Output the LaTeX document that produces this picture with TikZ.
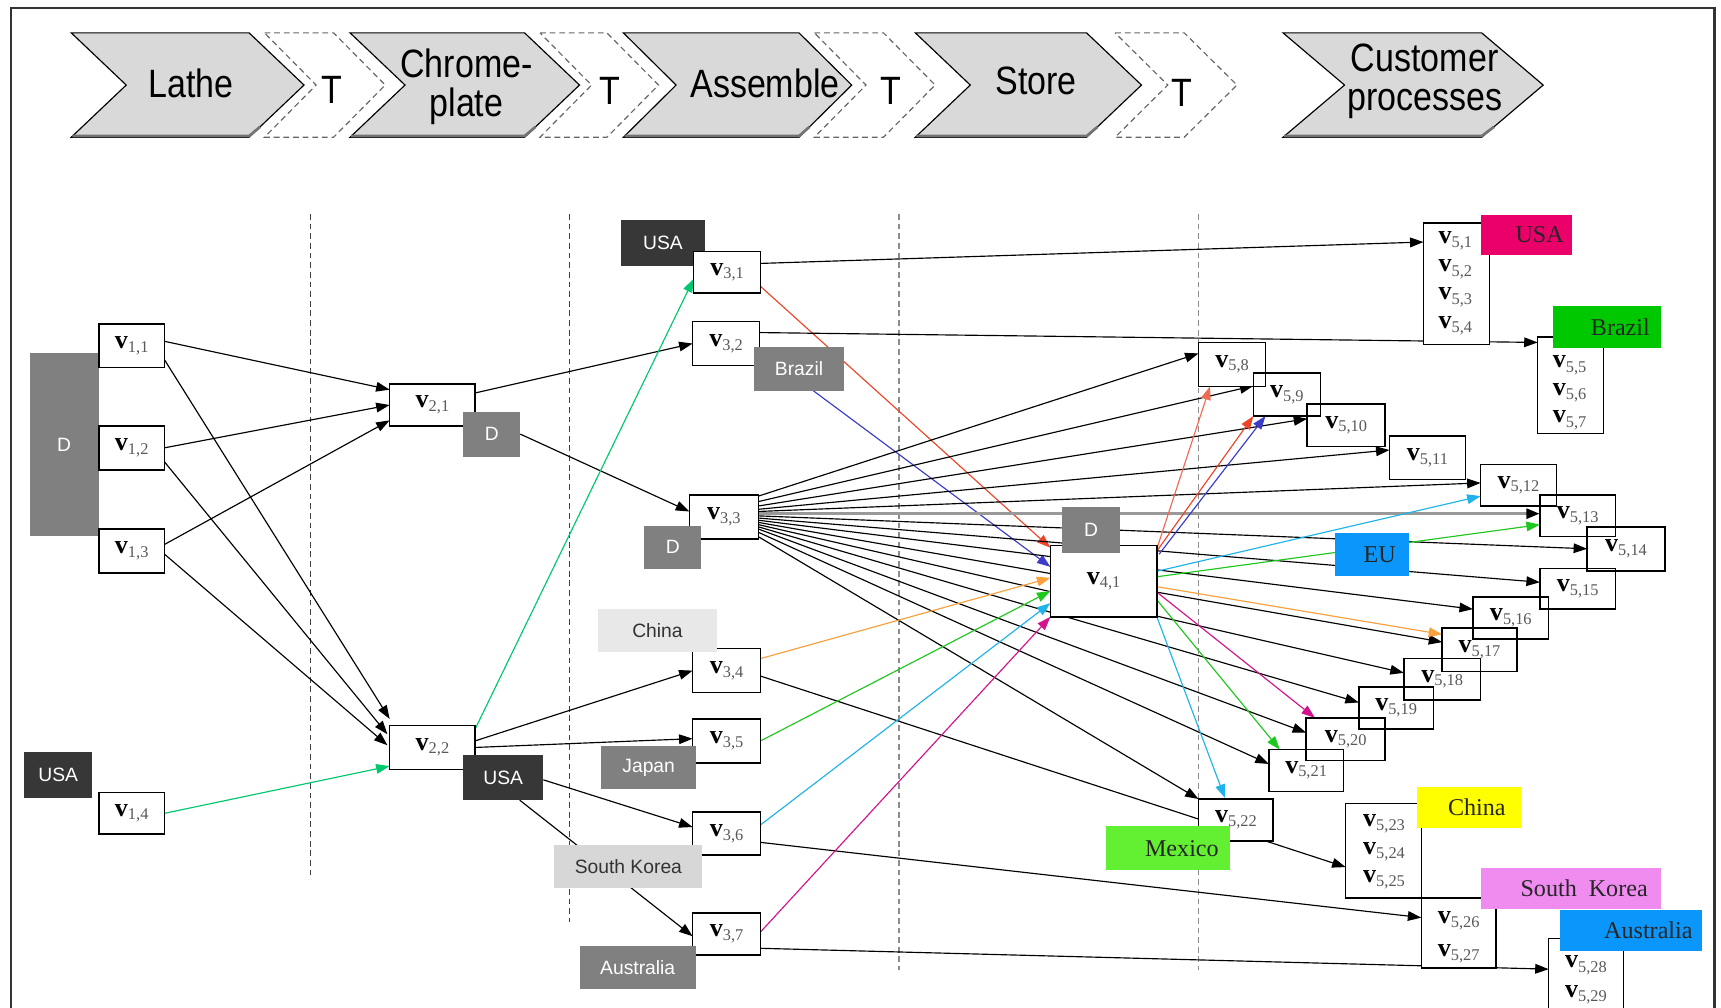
\documentclass[tikz,border=0pt]{standalone}
\usepackage{fontspec}
\setmainfont{Liberation Serif}
\newfontfamily\hdrfont[FakeStretch=0.86]{Liberation Sans}
\newfontfamily\labfont{Liberation Sans}
\usetikzlibrary{arrows.meta,calc}
\pgfdeclarelayer{back}
\pgfdeclarelayer{wires}
\pgfsetlayers{back,wires,main}

% palette
\definecolor{usadark}{RGB}{55,55,55}
\definecolor{dgray}{RGB}{128,128,128}
\definecolor{lgray}{RGB}{232,232,232}
\definecolor{skgray}{RGB}{215,215,215}
\definecolor{hdrgray}{RGB}{217,217,217}
\definecolor{cpink}{RGB}{235,0,105}
\definecolor{cgreen}{RGB}{0,200,0}
\definecolor{cblue}{RGB}{10,150,250}
\definecolor{cmex}{RGB}{100,240,50}
\definecolor{cyel}{RGB}{255,255,0}
\definecolor{cviolet}{RGB}{240,140,240}
\definecolor{agreen}{RGB}{0,200,110}
\definecolor{ared}{RGB}{235,70,40}
\definecolor{ablue}{RGB}{60,60,200}
\definecolor{aorange}{RGB}{250,160,60}
\definecolor{agreen2}{RGB}{30,200,30}
\definecolor{acyan}{RGB}{30,180,235}
\definecolor{amag}{RGB}{210,20,140}

% v_{i,j} label
\newcommand\vlab[1]{{\fontsize{13.5}{14}\selectfont\bfseries v}\raisebox{-0.4ex}{\fontsize{8.5}{9}\selectfont\color{black!65}#1}}
% box from corner (x1,y1) to (x2,y2): style, name, then the text follows
\newcommand\boxat[6]{\node[#5,minimum width={(#3-#1)*0.02cm},minimum height={(#4-#2)*0.02cm}] (#6) at ({(#1+#3)/2},{(#2+#4)/2})}
% header chevron: left x, right x, tip depth, style
\newcommand\chev[4]{\draw[#4] (#1,30) -- (#2,30) -- ({#2+#3},77.5) -- (#2,125) -- (#1,125) -- ({#1+#3},77.5) -- cycle;}
% shaded lower edge of a process chevron
\newcommand\chevshade[3]{\draw[black!55,line width=1.4pt] ({#1+1},124) -- (#2,124) -- ({#2+#3*0.2},{125-47.5*0.2});}

\begin{document}
\begin{tikzpicture}[x=0.02cm,y=-0.02cm,
  vbox/.style={draw,line width=0.8pt,fill=white,inner sep=0pt,outer sep=0pt},
  tag/.style={inner sep=0pt,outer sep=0pt,font=\labfont\fontsize{10}{11}\selectfont},
  darktag/.style={tag,fill=usadark,text=white},
  graytag/.style={tag,fill=dgray,text=white},
  lighttag/.style={tag,fill=lgray,text=black!80},
  sktag/.style={tag,fill=skgray,text=black!80},
  ctag/.style={inner sep=0pt,outer sep=0pt,font=\fontsize{12.5}{13}\selectfont,text=black!85},
  hdr/.style={font=\hdrfont\fontsize{20.5}{20.5}\selectfont,align=center,inner sep=0pt},
  stage/.style={fill=hdrgray,draw=black,line width=0.6pt,line join=miter},
  trans/.style={fill=white,draw=black!60,densely dashed,line width=0.6pt},
  sepdark/.style={black!75,dash pattern=on 3pt off 2pt,line width=0.6pt},
  seplight/.style={black!45,dash pattern=on 3pt off 2pt,line width=0.6pt},
  stack/.style={inner sep=0pt,align=center},
  con/.style={-{Triangle[length=7pt,width=5pt]},line width=0.6pt}]

\useasboundingbox (0,0) rectangle (1568,918);
\clip (0,0) rectangle (1568,918);

\begin{pgfonlayer}{back}
  \draw[line width=1.2pt,black!80] (10,7) rectangle (1562,960);
  \chev{65}{227}{50}{stage}
  \chevshade{65}{227}{50}
  \chev{241}{304}{47}{trans}
  \chev{319}{478}{50}{stage}
  \chevshade{319}{478}{50}
  \chev{492}{553}{47}{trans}
  \chev{568}{728}{48}{stage}
  \chevshade{568}{728}{48}
  \chev{742}{805}{47}{trans}
  \chev{834}{990}{50}{stage}
  \chevshade{834}{990}{50}
  \chev{1016}{1079}{48}{trans}
  \chev{1169}{1350}{56}{stage}
  \chevshade{1169}{1350}{56}
  \draw[sepdark] (283,195) -- (283,800);
  \draw[sepdark] (519,195) -- (519,840);
  \draw[seplight] (819,195) -- (819,884);
  \draw[seplight] (1092,195) -- (1092,884);
\end{pgfonlayer}

% header labels
\node[hdr] (hLathe) at (174,76) {Lathe};
\node[hdr] (hT1) at (302,82) {T};
\node[hdr] (hChrome) at (425,79) {Chrome-\\plate};
\node[hdr] (hT2) at (556,83) {T};
\node[hdr] (hAssemble) at (697,76) {Assemble};
\node[hdr] (hT3) at (812,83) {T};
\node[hdr] (hStore) at (944,74) {Store};
\node[hdr] (hT4) at (1077,85) {T};
\node[hdr] (hCustomer) at (1298,74) {Customer\\processes};

% Lathe stage
\boxat{27}{322}{90}{488}{graytag}{D1}{D};
\boxat{22}{685}{84}{727}{darktag}{USA1}{USA};
\boxat{90}{295}{150}{335}{vbox}{v11}{\vlab{1,1}};
\boxat{90}{388}{150}{428}{vbox}{v12}{\vlab{1,2}};
\boxat{90}{482}{150}{522}{vbox}{v13}{\vlab{1,3}};
\boxat{90}{722}{150}{760}{vbox}{v14}{\vlab{1,4}};

% Chrome-plate stage
\boxat{355}{350}{433}{388}{vbox}{v21}{\vlab{2,1}};
\boxat{422}{375}{474}{416}{graytag}{D2}{D};
\boxat{355}{661}{433}{701}{vbox}{v22}{\vlab{2,2}};
\boxat{422}{688}{495}{729}{darktag}{USA2}{USA};

% Assemble stage
\boxat{566}{200}{642}{242}{darktag}{USA3}{USA};
\boxat{632}{229}{693}{267}{vbox}{v31}{\vlab{3,1}};
\boxat{631}{293}{692}{333}{vbox}{v32}{\vlab{3,2}};
\boxat{687}{316}{769}{356}{graytag}{Brazil3}{Brazil};
\boxat{628}{451}{691}{491}{vbox}{v33}{\vlab{3,3}};
\boxat{587}{479}{639}{518}{graytag}{D3}{D};
\boxat{631}{591}{693}{631}{vbox}{v34}{\vlab{3,4}};
\boxat{545}{555}{653}{594}{lighttag}{China3}{China};
\boxat{631}{655}{693}{695}{vbox}{v35}{\vlab{3,5}};
\boxat{548}{680}{634}{719}{graytag}{Japan3}{Japan};
\boxat{631}{740}{693}{779}{vbox}{v36}{\vlab{3,6}};
\boxat{505}{770}{640}{809}{sktag}{SK3}{South Korea};
\boxat{631}{832}{693}{870}{vbox}{v37}{\vlab{3,7}};
\boxat{528}{862}{634}{901}{graytag}{Aus3}{Australia};

% Store stage
\boxat{957}{497}{1054}{562}{vbox}{v41}{\vlab{4,1}};
\boxat{968}{462}{1020}{504}{graytag}{D4}{D};

% customer nodes
\boxat{1092}{312}{1153}{352}{vbox}{v58}{\vlab{5,8}};
\boxat{1142}{340}{1203}{379}{vbox}{v59}{\vlab{5,9}};
\boxat{1191}{368}{1262}{407}{vbox}{v510}{\vlab{5,10}};
\boxat{1266}{397}{1335}{437}{vbox}{v511}{\vlab{5,11}};
\boxat{1349}{423}{1418}{461}{vbox}{v512}{\vlab{5,12}};
\boxat{1403}{451}{1472}{489}{vbox}{v513}{\vlab{5,13}};
\boxat{1446}{480}{1517}{520}{vbox}{v514}{\vlab{5,14}};
\boxat{1403}{518}{1472}{555}{vbox}{v515}{\vlab{5,15}};
\boxat{1342}{544}{1411}{582}{vbox}{v516}{\vlab{5,16}};
\boxat{1314}{572}{1382}{612}{vbox}{v517}{\vlab{5,17}};
\boxat{1279}{600}{1349}{638}{vbox}{v518}{\vlab{5,18}};
\boxat{1238}{626}{1306}{664}{vbox}{v519}{\vlab{5,19}};
\boxat{1190}{654}{1262}{693}{vbox}{v520}{\vlab{5,20}};
\boxat{1156}{683}{1224}{721}{vbox}{v521}{\vlab{5,21}};
% overlapping outlines stay visible
\foreach \n in {v58,v59,v510,v511,v512,v513,v514,v515,v516,v517,v518,v519,v520,v521}
  \draw[line width=0.8pt] (\n.north west) rectangle (\n.south east);
\boxat{1092}{728}{1160}{766}{vbox}{v522}{\vlab{5,22}};
\boxat{1216}{486}{1284}{525}{ctag,fill=cblue}{EU}{\hspace*{8pt}EU};
\boxat{1008}{753}{1121}{793}{ctag,fill=cmex}{Mexico}{\hspace*{14pt}Mexico};

\boxat{1297}{203}{1357}{314}{vbox}{v5a}{};
\node[stack,font=\fontsize{13}{14.7}\selectfont] (t5a) at (1326,258)
  {\vlab{5,1}\\\vlab{5,2}\\\vlab{5,3}\\\vlab{5,4}};
\boxat{1349}{196}{1432}{232}{ctag,fill=cpink}{USA5}{\hspace*{14pt}USA};
\boxat{1401}{307}{1461}{395}{vbox}{v5b}{};
\node[stack,font=\fontsize{13}{14.2}\selectfont] (t5b) at (1430,358)
  {\vlab{5,5}\\\vlab{5,6}\\\vlab{5,7}};
\boxat{1415}{279}{1513}{317}{ctag,fill=cgreen}{Brazil5}{\hspace*{14pt}Brazil};
\boxat{1226}{732}{1295}{818}{vbox}{v5c}{};
\node[stack,font=\fontsize{13}{14.5}\selectfont] (t5c) at (1261,776)
  {\vlab{5,23}\\\vlab{5,24}\\\vlab{5,25}};
\boxat{1291}{717}{1386}{754}{ctag,fill=cyel}{China5}{\hspace*{8pt}China};
\boxat{1295}{818}{1363}{882}{vbox}{v5d}{};
\node[stack,font=\fontsize{13}{17}\selectfont] (t5d) at (1329,854)
  {\vlab{5,26}\\\vlab{5,27}};
\boxat{1349}{791}{1513}{828}{ctag,fill=cviolet}{SK5}{\hspace*{14pt}South\ \ Korea};
\boxat{1411}{855}{1479}{935}{vbox}{v5e}{};
\node[stack,font=\fontsize{13}{15.3}\selectfont] (t5e) at (1445,893)
  {\vlab{5,28}\\\vlab{5,29}};
\boxat{1421}{829}{1551}{866}{ctag,fill=cblue}{Aus5}{\hspace*{18pt}Australia};

\begin{pgfonlayer}{wires}
  % Lathe -> Chrome-plate
  \draw[con] ($(v11.east)+(0,-4)$) -- ($(v21.west)+(0,-14)$);
  \draw[con] ($(v11.east)+(0,13)$) -- ($(v22.north west)+(0,-6)$);
  \draw[con] (v12.east) -- (v21.west);
  \draw[con] ($(v12.east)+(0,13)$) -- ($(v22.west)+(-2,-12)$);
  \draw[con] ($(v13.east)+(0,-6)$) -- ($(v21.west)+(0,14)$);
  \draw[con] ($(v13.east)+(0,3)$) -- ($(v22.west)+(-2,-2)$);
  \draw[con,agreen] (v14.east) -- ($(v22.south west)+(0,-3)$);

  % Chrome-plate -> Assemble
  \draw[con] ($(v21.north east)+(0,8)$) -- (v32.west);
  \draw[con] (D2.east) -- ($(v33.west)+(0,-5)$);
  \draw[con,agreen] ($(v22.north east)+(0,3)$) -- ($(v31.west)+(0,6)$);
  \draw[con] ($(v22.east)+(0,-6)$) -- (v34.west);
  \draw[con] (v22.east) -- ($(v35.west)+(0,-2)$);
  \draw[con] ($(USA2.east)+(0,2)$) -- ($(v36.west)+(0,-6)$);
  \draw[con] ($(USA2.south)+(15,0)$) -- ($(v37.west)+(0,2)$);

  % Assemble -> Store and customers
  \draw[con] ($(v31.east)+(0,-8)$) -- ($(v5a.west)+(0,-38)$);
  \draw[con,ared] ($(v31.south east)+(0,-6)$) -- ($(v41.north west)+(0,2)$);
  \draw[con] ($(v32.east)+(0,-10)$) -- ($(v5b.north west)+(0,5)$);
  \draw[con,ablue] ($(Brazil3.south)+(13,0)$) -- ($(v41.west)+(0,-13)$);
  \draw[line width=1.8pt,black!40,-{Triangle[length=7pt,width=5pt,color=black]}]
    ($(v33.east)+(0,-3)$) -- ($(v513.west)+(0,-2)$);
  \foreach \dy/\t/\ey in {-19/v58/-10,-14/v59/-8,-10/v510/-6,-7/v511/-7,-5/v512/-2,
      -1/v514/0,1/v515/-6,3/v516/-8,5/v517/-7,7/v518/-6,9/v519/-5,11/v520/-6,14/v521/-6}
    \draw[con] ($(v33.east)+(0,\dy)$) -- ($(\t.west)+(0,\ey)$);
  \draw[con] ($(v33.east)+(0,18)$) -- (v522.north west);
  \draw[con,aorange] ($(v34.east)+(0,-11)$) -- ($(v41.west)+(0,-3)$);
  \draw[con] ($(v34.east)+(0,5)$) -- ($(v5c.west)+(0,15)$);
  \draw[con,agreen2] (v35.east) -- ($(v41.west)+(0,9)$);
  \draw[con,acyan] ($(v36.east)+(0,-8)$) -- ($(v41.west)+(0,20)$);
  \draw[con] ($(v36.east)+(0,8)$) -- ($(v5d.west)+(0,-14)$);
  \draw[con,amag] ($(v37.east)+(0,-2)$) -- (v41.south west);
  \draw[con] ($(v37.east)+(0,13)$) -- ($(v5e.north west)+(0,28)$);

  % Store -> customers
  \draw[con,ared!80] ($(v41.north east)+(0,3)$) -- ($(v58.south)+(-20,0)$);
  \draw[con,ared] ($(v41.north east)+(0,5)$) -- (v59.south west);
  \draw[con,ablue] ($(v41.north east)+(2,8)$) -- ($(v59.south west)+(11,0)$);
  \draw[con,acyan] ($(v41.east)+(0,-9)$) -- ($(v512.west)+(0,10)$);
  \draw[con,agreen2] ($(v41.east)+(0,-4)$) -- ($(v513.west)+(0,8)$);
  \draw[con,aorange] ($(v41.east)+(0,5)$) -- ($(v517.north west)+(0,6)$);
  \draw[con,amag] ($(v41.east)+(0,10)$) -- ($(v520.north west)+(8,0)$);
  \draw[con,agreen2] ($(v41.east)+(0,17)$) -- ($(v521.north west)+(10,0)$);
  \draw[con,acyan] (v41.south east) -- ($(v522.north)+(-10,-1)$);
\end{pgfonlayer}
\end{tikzpicture}
\end{document}
